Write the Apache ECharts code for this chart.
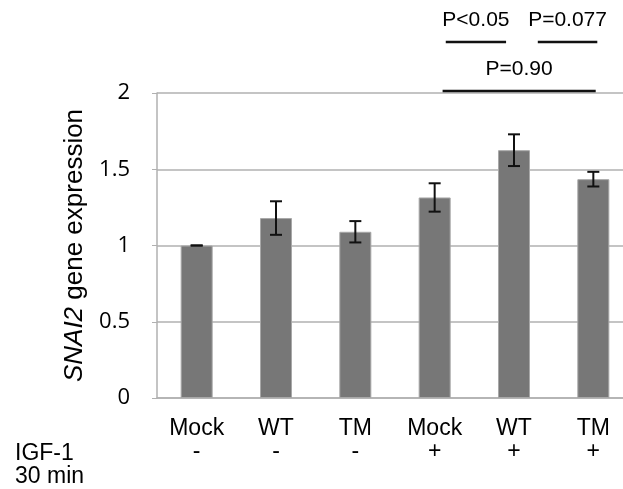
<!DOCTYPE html>
<html>
<head>
<meta charset="utf-8">
<script src="https://cdn.jsdelivr.net/npm/echarts@6/dist/echarts.min.js"></script>
<style>
html,body{margin:0;padding:0;background:#fff;}
#main{width:623px;height:489px;}
</style>
</head>
<body>
<div id="main"></div>
<script>
// groups and IGF-1 treatment
var categories = ['Mock', 'WT', 'TM', 'Mock', 'WT', 'TM'];
var igf = ['-', '-', '-', '+', '+', '+'];
var values = [1.0, 1.18, 1.09, 1.315, 1.625, 1.435];
var errors = [0.0, 0.11, 0.07, 0.093, 0.104, 0.048];
var yTicks = [0, 0.5, 1, 1.5, 2];
// significance bars: from, to (category position), height, text
var brackets = [
	[3.14, 3.90, 2.334, 'P<0.05'],
	[4.30, 5.05, 2.334, 'P=0.077'],
	[3.10, 5.03, 2.013, 'P=0.90']
];

var font = '"Liberation Sans", Arial, sans-serif';
var myChart = echarts.init(document.getElementById('main'));

var option = {
	animation: false,
	grid: { left: 157, width: 476, top: 93, bottom: 91, outerBoundsMode: 'none', containLabel: false },
	xAxis: [{
		type: 'category',
		data: categories,
		axisTick: { show: false },
		axisLine: { lineStyle: { color: '#b0b0b0', width: 1.5 } },
		axisLabel: {
			color: '#000',
			fontFamily: font,
			fontSize: 23,
			lineHeight: 23,
			margin: 19,
			formatter: function (v, i) { return v + '\n' + igf[i]; }
		}
	}, {
		type: 'value', min: -0.5, max: 5.5, show: false
	}],
	yAxis: {
		type: 'value',
		min: 0, max: 2, interval: 0.5,
		axisLine: { show: true, onZero: false, lineStyle: { color: '#b0b0b0', width: 1.5 } },
		splitLine: { lineStyle: { color: '#b0b0b0', width: 1.5 } },
		axisLabel: {
			color: '#000', fontFamily: '"Open Sans", sans-serif', fontSize: 22, margin: 27,
			formatter: function (v) { return yTicks.indexOf(v) >= 0 ? String(v) : ''; }
		},
		name: '{i|SNAI2} gene expression',
		nameLocation: 'middle',
		nameGap: 53,
		nameTextStyle: {
			color: '#000', fontFamily: font, fontSize: 26,
			rich: { i: { fontStyle: 'italic', fontFamily: font, fontSize: 26, color: '#000' } }
		}
	},
	graphic: [
		{ type: 'text', left: 15, top: 442, style: { text: 'IGF-1', fontFamily: font, fontSize: 23, fill: '#000' } },
		{ type: 'text', left: 15, top: 465, style: { text: '30 min', fontFamily: font, fontSize: 23, fill: '#000' } }
	],
	series: [{
		type: 'bar',
		data: values,
		barWidth: 32,
		itemStyle: { color: '#777777', borderColor: '#a8a8a8', borderWidth: 1 }
	}, {
		type: 'custom',
		data: values.map(function (v, i) { return [i, v - errors[i], v + errors[i]]; }),
		renderItem: function (params, api) {
			var lo = api.coord([api.value(0), api.value(1)]);
			var hi = api.coord([api.value(0), api.value(2)]);
			var w = 6;
			var st = { stroke: '#111', lineWidth: 2 };
			return {
				type: 'group',
				children: [
					{ type: 'line', shape: { x1: hi[0], y1: hi[1], x2: lo[0], y2: lo[1] }, style: st },
					{ type: 'line', shape: { x1: hi[0] - w, y1: hi[1], x2: hi[0] + w, y2: hi[1] }, style: st },
					{ type: 'line', shape: { x1: lo[0] - w, y1: lo[1], x2: lo[0] + w, y2: lo[1] }, style: st }
				]
			};
		},
		z: 5
	}, {
		type: 'custom',
		xAxisIndex: 1,
		clip: false,
		data: brackets,
		renderItem: function (params, api) {
			var a = api.coord([api.value(0), api.value(2)]);
			var b = api.coord([api.value(1), api.value(2)]);
			return {
				type: 'group',
				children: [
					{ type: 'line', shape: { x1: a[0], y1: a[1], x2: b[0], y2: b[1] }, style: { stroke: '#111', lineWidth: 2.5 } },
					{ type: 'text', x: (a[0] + b[0]) / 2, y: a[1] - 22,
					  style: { text: brackets[params.dataIndex][3], fontFamily: font, fontSize: 21, fill: '#000', align: 'center', verticalAlign: 'middle' } }
				]
			};
		},
		z: 5
	}]
};

myChart.setOption(option);
</script>
</body>
</html>
